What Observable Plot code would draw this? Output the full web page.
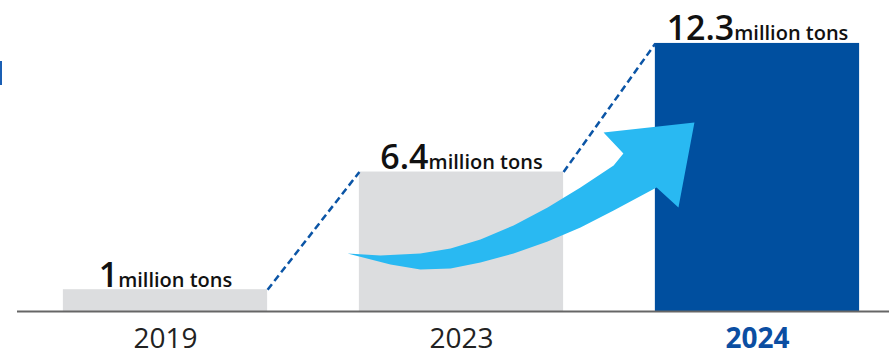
<!DOCTYPE html>
<html>
<head>
<meta charset="utf-8">
<script src="https://cdn.jsdelivr.net/npm/d3@7"></script>
<script src="https://cdn.jsdelivr.net/npm/@observablehq/plot@0.6"></script>
<style>
  html, body { margin: 0; padding: 0; background: #fff; }
  #wrap { position: relative; width: 889px; height: 353px; overflow: hidden; font-family: "Open Sans", sans-serif; }
  #mark { position: absolute; left: 0; top: 61px; width: 2px; height: 24px; background: #1a5fb4; }
</style>
</head>
<body>
<div id="wrap"><div id="mark"></div></div>
<script>
// ---- data ----
const years = ["2019", "2023", "2024"];
const values = [1, 6.4, 12.3];
const unit = "million tons";
const highlightYear = "2024";

// decorative growth arrow outline, in (category index, value) units
const arrowX = [0.615, 0.726, 0.861, 0.963, 1.064, 1.176, 1.291, 1.402, 1.514, 1.547, 1.480, 1.787, 1.733, 1.659, 1.514, 1.402, 1.291, 1.176, 1.064, 0.963, 0.861, 0.760];
const arrowY = [2.66, 2.57, 2.66, 2.89, 3.30, 3.95, 4.77, 5.69, 6.70, 7.25, 8.21, 8.67, 4.77, 5.69, 4.64, 3.86, 3.21, 2.66, 2.25, 1.97, 1.93, 2.16];

// ---- build tables ----
const half = 0.345;
const bars = years.map((y, i) => ({year: y, i, value: values[i], x1: i - half, x2: i + half, label: `${values[i]}|${unit}`}));
const links = bars.slice(0, -1).map((b, k) => ({x1: b.x2, y1: b.value, x2: bars[k + 1].x1, y2: bars[k + 1].value}));
const arrow = arrowX.map((x, k) => ({x, y: arrowY[k]}));

const chart = Plot.plot({
  width: 889,
  height: 353,
  marginTop: 0,
  marginBottom: 42,
  marginLeft: 17,
  marginRight: 0,
  style: {fontFamily: "Open Sans, sans-serif", background: "transparent", overflow: "visible"},
  x: {domain: [-0.5, 2.446], axis: null},
  y: {domain: [0, 14.27], axis: null},
  marks: [
    Plot.rect(bars, {x1: "x1", x2: "x2", y1: 0, y2: "value", fill: d => d.year === highlightYear ? "#004f9f" : "#dcdddf"}),
    Plot.link(links, {x1: "x1", y1: "y1", x2: "x2", y2: "y2", stroke: "#0b55a6", strokeWidth: 2.5, strokeDasharray: "7,4"}),
    Plot.line(arrow, {x: "x", y: "y", fill: "#29b9f2", stroke: "none"}),
    Plot.ruleY([0], {stroke: "#666", strokeWidth: 2}),
    Plot.text(bars, {x: "i", y: "value", text: "label", textAnchor: "middle", lineAnchor: "bottom", dy: -3, fill: "#111", className: "value-label"}),
    Plot.text(bars.filter(d => d.year !== highlightYear), {x: "i", y: 0, text: "year", dy: 28, fontSize: 28, fill: "#222"}),
    Plot.text(bars.filter(d => d.year === highlightYear), {x: "i", y: 0, text: "year", dy: 28, fontSize: 28, fontWeight: 700, fill: "#0b4ea2"})
  ]
});

// split value labels into big number + small unit
chart.querySelectorAll('.value-label text').forEach(t => {
  const [num, u] = t.textContent.split("|");
  while (t.firstChild) t.removeChild(t.firstChild);
  const a = document.createElementNS("http://www.w3.org/2000/svg", "tspan");
  a.textContent = num; a.setAttribute("font-size", "34"); a.setAttribute("font-weight", "600");
  const b = document.createElementNS("http://www.w3.org/2000/svg", "tspan");
  b.textContent = u; b.setAttribute("font-size", "20"); b.setAttribute("font-weight", "600");
  t.appendChild(a); t.appendChild(b);
});

document.getElementById("wrap").appendChild(chart);
</script>
</body>
</html>
